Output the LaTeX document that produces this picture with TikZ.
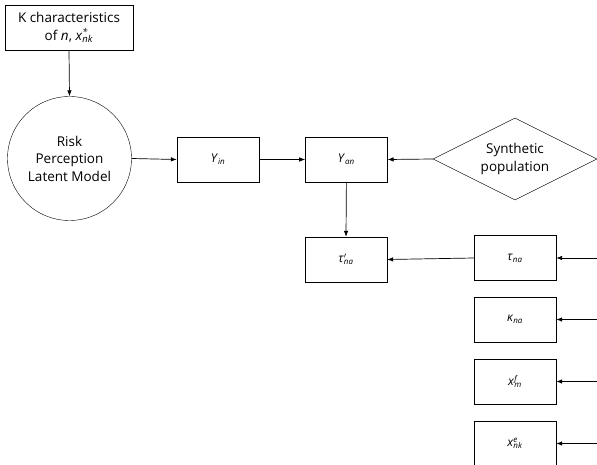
\documentclass[tikz,border=0pt]{standalone}
\usepackage{fontspec}
\setmainfont{Open Sans}
\usetikzlibrary{positioning,shapes.geometric,arrows.meta}
\newcommand{\varit}[1]{\textit{#1}}
\newcommand{\subsup}[3]{\textit{#1}\rlap{\textsuperscript{\textit{#2}}}\textsubscript{\textit{#3}}}

\begin{document}
\begin{tikzpicture}[x=1pt,y=-1pt,
  every node/.style={font=\fontsize{13.5}{17.5}\selectfont},
  box/.style={draw,minimum width=82pt,minimum height=45pt,inner sep=2pt,font=\fontsize{12}{15}\selectfont},
  arr/.style={-{Latex[length=6pt,width=4.5pt]},line width=0.7pt}]
\useasboundingbox (0,0) rectangle (597,465);
%the nodes
\node [box,minimum width=128pt,align=center,font=\fontsize{13.5}{17.5}\selectfont] (kChars) at (69,27.5) {K characteristics\\of \varit{n}, \subsup{x}{*}{nk}};
\node [draw,circle,minimum size=124pt,inner sep=0pt,align=center] (riskModel) at (69.5,158.5) {Risk\\Perception\\Latent Model};
\node [box] (yIn) at (218,159.5) {\varit{Y}\textsubscript{\textit{in}}};
\node [box,right=46pt of yIn] (yAn) {\varit{Y}\textsubscript{\textit{an}}};
\node [draw,diamond,aspect=2,minimum width=164pt,minimum height=82pt,inner sep=0pt,align=center] (synthPop) at (515,159) {Synthetic\\population};
\node [box] (tauPrime) at (346,259.5) {\subsup{τ}{$\prime$}{na}};
\node [box] (tauNa) at (515,258) {\varit{τ}\textsubscript{\textit{na}}};
\node [box] (kappaNa) at (515,319.5) {\varit{κ}\textsubscript{\textit{na}}};
\node [box] (xF) at (515,381.5) {\subsup{x}{f}{m}};
\node [box] (xE) at (515,443.5) {\subsup{x}{e}{nk}};
%free ends at the right edge
\coordinate (inTau) at (597,258);
\coordinate (inKappa) at (597,319.5);
\coordinate (inF) at (597,381.5);
\coordinate (inE) at (597,443.5);
%drawings of lines
\draw[arr] (kChars.south) -- (riskModel.north);
\draw[arr] (riskModel.east) -- (yIn.west);
\draw[arr] (yIn.east) -- (yAn.west);
\draw[arr] (synthPop.west) -- (yAn.east);
\draw[arr] (yAn.south) -- (tauPrime.north);
\draw[arr] (tauNa.west) -- (tauPrime.east);

\draw[arr] (inTau) -- (tauNa.east);
\draw[arr] (inKappa) -- (kappaNa.east);
\draw[arr] (inF) -- (xF.east);
\draw[arr] (inE) -- (xE.east);
\end{tikzpicture}
\end{document}
